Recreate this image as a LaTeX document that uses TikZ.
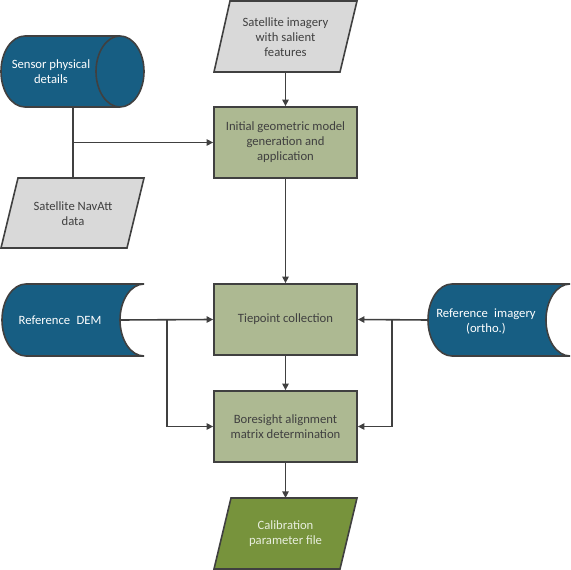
\documentclass[tikz,border=0pt]{standalone}
\usepackage{fontspec}
\setmainfont{Carlito}
\usetikzlibrary{arrows.meta}
\definecolor{dblue}{RGB}{23,94,131}
\definecolor{boxgreen}{RGB}{173,185,146}
\definecolor{pgray}{RGB}{217,217,217}
\definecolor{dgreen}{RGB}{119,147,60}
\definecolor{edgec}{RGB}{64,64,64}
\definecolor{txt}{RGB}{64,64,64}
\definecolor{caltxt}{RGB}{232,238,222}
\begin{document}
\begin{tikzpicture}[x=0.75pt,y=-0.75pt]
\tikzset{
  lbl/.style={font=\fontsize{9.5}{11.25}\selectfont, align=center, inner sep=0pt},
  procbox/.style={lbl, draw=edgec, fill=boxgreen, line width=1.2pt, minimum width=107.25pt, minimum height=53.25pt, text=txt},
  bluefill/.style={draw=edgec, fill=dblue, line width=1.2pt},
  grayfill/.style={draw=edgec, fill=pgray, line width=1.2pt},
  greenfill/.style={draw=edgec, fill=dgreen, line width=1.2pt},
  flow/.style={draw=edgec, line width=1.2pt, -{Triangle[length=5pt,width=4.8pt]}},
  link/.style={draw=edgec, line width=1.2pt},
}
\useasboundingbox (0,0) rectangle (571,570);

% Sensor physical details (cylinder)
\path[bluefill] (25,36) -- (120,36) arc(-90:90:24 and 35.5) -- (25,107) arc(90:270:24 and 35.5) -- cycle;
\draw[link] (120,107) arc(90:270:24 and 35.5);
\node[lbl, text=white] (sensor) at (51,72) {Sensor physical\\details};
\coordinate (sensorB) at (73,107);

% Satellite imagery
\path[grayfill] (230,1) -- (357,1) -- (340,72) -- (214,72) -- cycle;
\node[lbl, text=txt] (satimg) at (285.5,37) {Satellite imagery\\with salient\\features};
\coordinate (satimgB) at (285.5,72);

% Satellite NavAtt
\path[grayfill] (18,178) -- (144,178) -- (127,248) -- (1,248) -- cycle;
\node[lbl, text=txt] (navatt) at (73,214) {Satellite NavAtt\\data};
\coordinate (navT) at (73,178);

% Process boxes
\node[procbox] (init) at (285.5,142.5) {Initial geometric model\\generation and\\application};
\node[procbox] (tie) at (285.5,319.5) {Tiepoint collection};
\node[procbox] (bore) at (285.5,426.5) {Boresight alignment\\matrix determination};

% Reference DEM
\path[bluefill] (26,284) -- (144,284) arc(270:90:24 and 36) -- (26,356) arc(90:270:24 and 36) -- cycle;
\node[lbl, text=white] (dem) at (60,320) {Reference\enspace DEM};
\coordinate (demR) at (120,320);

% Reference imagery
\path[bluefill] (452,284) -- (570,284) arc(270:90:24 and 36) -- (452,356) arc(90:270:24 and 36) -- cycle;
\node[lbl, text=white] (refimg) at (486,322) {Reference\enspace imagery\\(ortho.)};
\coordinate (imgL) at (428,320);

% Calibration parameter file
\path[greenfill] (231,498) -- (357,498) -- (340,569) -- (214,569) -- cycle;
\node[lbl, text=caltxt] (calib) at (285.5,534) {Calibration\\parameter file};
\coordinate (calT) at (285.5,498);

% Connectors
\draw[flow] (satimgB) -- (init.north);
\draw[link] (sensorB) -- (navT);
\coordinate (jn1) at (73,142.5);
\draw[flow] (jn1) -- (init.west);
\draw[flow] (init.south) -- (tie.north);
\draw[flow] (demR) -- (tie.west);
\coordinate (jn2) at (167,319.5);
\draw[flow] (jn2) |- (bore.west);
\draw[flow] (imgL) -- (tie.east);
\coordinate (jn3) at (392,319.5);
\draw[flow] (jn3) |- (bore.east);
\draw[flow] (tie.south) -- (bore.north);
\draw[flow] (bore.south) -- (calT);
\end{tikzpicture}
\end{document}
